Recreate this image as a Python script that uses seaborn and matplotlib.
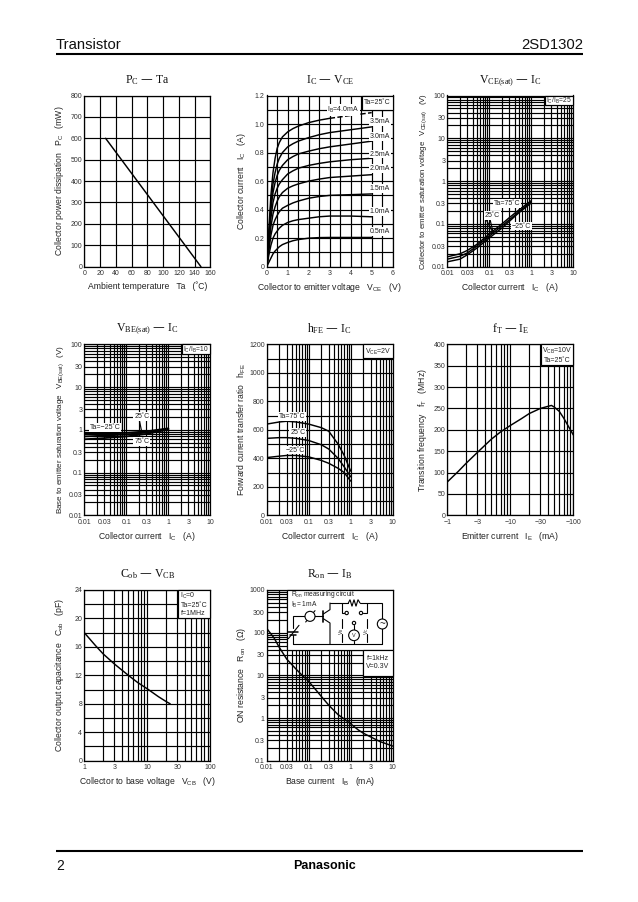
import numpy as np
import pandas as pd
import seaborn as sns
import matplotlib
matplotlib.use("Agg")
import matplotlib.pyplot as plt
from matplotlib.patches import Rectangle, Circle
from matplotlib.ticker import FixedLocator, FixedFormatter, LogLocator, NullFormatter

sns.set_theme(style="white")
plt.rcParams['font.family'] = ['Liberation Sans', 'DejaVu Sans']
plt.rcParams['mathtext.default'] = 'regular'

W, H = 638, 902

# PC - Ta
pc_ta = [27, 148]
pc_mw = [600, 0]

# IC - VCE
vce = [0, 0.05, 0.1, 0.2, 0.3, 0.4, 0.5, 0.6, 0.75, 1, 1.25, 1.5, 2, 2.5, 3, 4, 5]
ic_ib40 = [0, 0.10, 0.25, 0.50, 0.66, 0.76, 0.83, 0.87, 0.91, 0.945, 0.968, 0.985, 1.01, 1.027, 1.04, 1.06, 1.08]
ic_ib35 = [0, 0.09, 0.22, 0.44, 0.58, 0.66, 0.72, 0.76, 0.80, 0.84, 0.862, 0.88, 0.905, 0.925, 0.94, 0.96, 0.98]
ic_ib30 = [0, 0.08, 0.20, 0.40, 0.52, 0.59, 0.64, 0.675, 0.71, 0.75, 0.772, 0.79, 0.81, 0.827, 0.84, 0.86, 0.88]
ic_ib25 = [0, 0.07, 0.17, 0.34, 0.45, 0.51, 0.55, 0.58, 0.61, 0.65, 0.672, 0.69, 0.71, 0.724, 0.735, 0.75, 0.76]
ic_ib20 = [0, 0.06, 0.14, 0.28, 0.37, 0.42, 0.46, 0.49, 0.52, 0.55, 0.567, 0.58, 0.60, 0.614, 0.625, 0.635, 0.645]
ic_ib15 = [0, 0.05, 0.11, 0.22, 0.29, 0.33, 0.36, 0.385, 0.41, 0.43, 0.447, 0.46, 0.48, 0.492, 0.50, 0.505, 0.51]
ic_ib10 = [0, 0.035, 0.08, 0.15, 0.20, 0.23, 0.25, 0.27, 0.29, 0.31, 0.322, 0.33, 0.34, 0.35, 0.355, 0.355, 0.35]
ic_ib05 = [0, 0.015, 0.03, 0.06, 0.09, 0.11, 0.125, 0.14, 0.155, 0.17, 0.182, 0.19, 0.20, 0.204, 0.205, 0.205, 0.205]

# VCE(sat) - IC
sat_ic = [0.01, 0.02, 0.03, 0.05, 0.1, 0.2, 0.3, 0.5, 1]
vce_75 = [0.017, 0.020, 0.024, 0.033, 0.058, 0.10, 0.14, 0.21, 0.35]
vce_25 = [0.015, 0.0175, 0.021, 0.030, 0.052, 0.09, 0.125, 0.19, 0.33]
vce_m25 = [0.013, 0.015, 0.019, 0.027, 0.047, 0.08, 0.115, 0.18, 0.31]

# VBE(sat) - IC
vbe_ic = [0.01, 0.03, 0.1, 0.3, 1]
vbe_m25 = [0.80, 0.82, 0.85, 0.92, 1.08]
vbe_25 = [0.70, 0.73, 0.78, 0.86, 1.05]
vbe_75 = [0.60, 0.64, 0.70, 0.80, 1.02]

# hFE - IC
hfe_ic = [0.01, 0.02, 0.03, 0.05, 0.1, 0.2, 0.3, 0.5, 0.7, 1]
hfe_75 = [640, 655, 660, 655, 640, 615, 590, 500, 420, 310]
hfe_25 = [540, 545, 545, 540, 525, 495, 465, 400, 340, 270]
hfe_m25 = [405, 415, 420, 420, 410, 385, 365, 330, 300, 240]

# fT - IE (magnitude of IE, axis is labelled negative)
ft_ie = [1, 1.5, 2, 3, 5, 7, 10, 15, 20, 30, 40, 45, 50, 60, 70, 100]
ft_mhz = [78, 103, 122, 147, 178, 195, 210, 226, 238, 250, 255, 257, 253, 243, 228, 188]

# Cob - VCB
cob_vcb = [1, 1.5, 2, 3, 4, 5, 7, 10, 15, 20, 23]
cob_pf = [18, 16.2, 15, 13.6, 12.7, 12, 11, 10.1, 9, 8.3, 8]

# Ron - IB
ron_ib = [0.01, 0.015, 0.02, 0.03, 0.05, 0.07, 0.1, 0.15, 0.2, 0.3, 0.5, 0.7, 1, 1.5, 2, 3, 5, 7, 10]
ron_ohm = [126, 75, 45, 24, 14, 10, 7.2, 4.5, 3.2, 2.0, 1.2, 0.95, 0.73, 0.53, 0.44, 0.36, 0.28, 0.25, 0.22]

# tick labels
log_ic_ticks = [0.01, 0.03, 0.1, 0.3, 1, 3, 10]
log_ic_labels = ['0.01', '0.03', '0.1', '0.3', '1', '3', '10']
log_v_ticks = [0.01, 0.03, 0.1, 0.3, 1, 3, 10, 30, 100]
log_v_labels = ['0.01', '0.03', '0.1', '0.3', '1', '3', '10', '30', '100']
ron_ticks = [0.1, 0.3, 1, 3, 10, 30, 100, 300, 1000]
ron_labels = ['0.1', '0.3', '1', '3', '10', '30', '100', '300', '1000']


def make_axes(x0, y0, x1, y1):
    return fig.add_axes([x0 / W, 1 - y1 / H, (x1 - x0) / W, (y1 - y0) / H])


def draw(ax, x, y, ls='-', lw=1.05):
    df = pd.DataFrame({'x': x, 'y': y})
    sns.lineplot(data=df, x='x', y='y', color='black', linewidth=lw, linestyle=ls,
                 estimator=None, sort=False, ax=ax, zorder=4)


def style(ax, title, xlabel, ylabel, ysize=6.2):
    ax.set_title(title, fontsize=8.5, family=['Liberation Serif'], pad=9, color='#111111')
    ax.set_xlabel(xlabel, fontsize=6.2, color='#222222')
    ax.set_ylabel(ylabel, fontsize=ysize, color='#222222')
    ax.xaxis.set_label_coords(0.5, -0.085)
    ax.yaxis.set_label_coords(-0.145, 0.5)
    ax.grid(True, which='both', color='black', linewidth=0.85)
    ax.set_axisbelow(True)
    ax.tick_params(which='both', length=0, labelsize=5, labelcolor='#333333')
    ax.tick_params(axis='x', which='both', pad=2.5)
    ax.tick_params(axis='y', which='both', pad=1.5)
    for s in ax.spines.values():
        s.set_visible(True)
        s.set_color('black')
        s.set_linewidth(0.9)


def linear_axis(axis, ticks, labels, grid_ticks):
    axis.set_major_locator(FixedLocator(ticks))
    axis.set_major_formatter(FixedFormatter(labels))
    axis.set_minor_locator(FixedLocator(grid_ticks))
    axis.set_minor_formatter(NullFormatter())


def log_axis(axis, ticks, labels):
    axis.set_major_locator(FixedLocator(ticks))
    axis.set_major_formatter(FixedFormatter(labels))
    axis.set_minor_locator(LogLocator(base=10, subs=(2, 3, 4, 5, 6, 7, 8, 9), numticks=20))
    axis.set_minor_formatter(NullFormatter())


fig = plt.figure(figsize=(W / 100, H / 100), dpi=100, facecolor='white')

row1 = (95.5, 266.7)
row2 = (344.3, 515.3)
row3 = (590, 760.7)
col1 = (84.3, 210.4)
col2 = (266.7, 392.7)
col3 = (447.3, 573.3)

# PC - Ta
ax = make_axes(col1[0], row1[0], col1[1], row1[1])
draw(ax, pc_ta, pc_mw)
ax.set_xlim(0, 160)
ax.set_ylim(0, 800)
linear_axis(ax.xaxis, list(range(0, 161, 20)), [str(v) for v in range(0, 161, 20)], [])
linear_axis(ax.yaxis, list(range(0, 801, 100)), [str(v) for v in range(0, 801, 100)], [])
style(ax, 'P$_C$ — Ta', 'Ambient temperature   Ta   (˚C)', 'Collector power dissipation   P$_C$   (mW)')

# IC - VCE
ax = make_axes(col2[0], row1[0], col2[1], row1[1])
for ic in [ic_ib35, ic_ib30, ic_ib25, ic_ib20, ic_ib15, ic_ib10, ic_ib05]:
    draw(ax, vce, ic)
draw(ax, vce[:15], ic_ib40[:15])
draw(ax, vce[14:], ic_ib40[14:], ls='--')
ax.set_xlim(0, 6)
ax.set_ylim(0, 1.2)
linear_axis(ax.xaxis, [0, 1, 2, 3, 4, 5, 6], ['0', '1', '2', '3', '4', '5', '6'],
            [0.5, 1.5, 2.5, 3.5, 4.5, 5.5])
linear_axis(ax.yaxis, [0, 0.2, 0.4, 0.6, 0.8, 1.0, 1.2], ['0', '0.2', '0.4', '0.6', '0.8', '1.0', '1.2'],
            [0.1, 0.3, 0.5, 0.7, 0.9, 1.1])
style(ax, 'I$_C$ — V$_{CE}$', 'Collector to emitter voltage   V$_{CE}$   (V)', 'Collector current   I$_C$   (A)')

# VCE(sat) - IC
ax = make_axes(col3[0], row1[0], col3[1], row1[1])
for v in [vce_75, vce_25, vce_m25]:
    draw(ax, sat_ic, v)
ax.set_xscale('log')
ax.set_yscale('log')
ax.set_xlim(0.01, 10)
ax.set_ylim(0.01, 100)
log_axis(ax.xaxis, log_ic_ticks, log_ic_labels)
log_axis(ax.yaxis, log_v_ticks, log_v_labels)
style(ax, 'V$_{CE(sat)}$ — I$_C$', 'Collector current   I$_C$   (A)',
      'Collector to emitter saturation voltage   V$_{CE(sat)}$   (V)', ysize=5.6)

# VBE(sat) - IC
ax = make_axes(col1[0], row2[0], col1[1], row2[1])
for v in [vbe_m25, vbe_25, vbe_75]:
    draw(ax, vbe_ic, v, lw=1.3)
ax.set_xscale('log')
ax.set_yscale('log')
ax.set_xlim(0.01, 10)
ax.set_ylim(0.01, 100)
log_axis(ax.xaxis, log_ic_ticks, log_ic_labels)
log_axis(ax.yaxis, log_v_ticks, log_v_labels)
style(ax, 'V$_{BE(sat)}$ — I$_C$', 'Collector current   I$_C$   (A)',
      'Base to emitter saturation voltage   V$_{BE(sat)}$   (V)', ysize=5.8)

# hFE - IC
ax = make_axes(col2[0], row2[0], col2[1], row2[1])
for h in [hfe_75, hfe_25, hfe_m25]:
    draw(ax, hfe_ic, h)
ax.set_xscale('log')
ax.set_xlim(0.01, 10)
ax.set_ylim(0, 1200)
log_axis(ax.xaxis, log_ic_ticks, log_ic_labels)
linear_axis(ax.yaxis, list(range(0, 1201, 200)), [str(v) for v in range(0, 1201, 200)],
            list(range(100, 1200, 200)))
style(ax, 'h$_{FE}$ — I$_C$', 'Collector current   I$_C$   (A)', 'Forward current transfer ratio   h$_{FE}$')

# fT - IE
ax = make_axes(col3[0], row2[0], col3[1], row2[1])
draw(ax, ft_ie, ft_mhz)
ax.set_xscale('log')
ax.set_xlim(1, 100)
ax.set_ylim(0, 400)
log_axis(ax.xaxis, [1, 3, 10, 30, 100], ['−1', '−3', '−10', '−30', '−100'])
linear_axis(ax.yaxis, list(range(0, 401, 50)), [str(v) for v in range(0, 401, 50)], [])
style(ax, 'f$_T$ — I$_E$', 'Emitter current   I$_E$   (mA)', 'Transition frequency   f$_T$   (MHz)')

# Cob - VCB
ax = make_axes(col1[0], row3[0], col1[1], row3[1])
draw(ax, cob_vcb, cob_pf)
ax.set_xscale('log')
ax.set_xlim(1, 100)
ax.set_ylim(0, 24)
log_axis(ax.xaxis, [1, 3, 10, 30, 100], ['1', '3', '10', '30', '100'])
linear_axis(ax.yaxis, list(range(0, 25, 4)), [str(v) for v in range(0, 25, 4)], list(range(2, 24, 4)))
style(ax, 'C$_{ob}$ — V$_{CB}$', 'Collector to base voltage   V$_{CB}$   (V)', 'Collector output capacitance   C$_{ob}$   (pF)')

# Ron - IB
ax = make_axes(col2[0], row3[0], col2[1], row3[1])
draw(ax, ron_ib, ron_ohm)
ax.set_xscale('log')
ax.set_yscale('log')
ax.set_xlim(0.01, 10)
ax.set_ylim(0.1, 1000)
log_axis(ax.xaxis, log_ic_ticks, log_ic_labels)
log_axis(ax.yaxis, ron_ticks, ron_labels)
style(ax, 'R$_{on}$ — I$_B$', 'Base current   I$_B$   (mA)', 'ON resistance   R$_{on}$   (Ω)')

# overlay in page pixels: header, footer, note boxes, circuit
page = fig.add_axes([0, 0, 1, 1], zorder=5)
page.set_xlim(0, W)
page.set_ylim(H, 0)
page.axis('off')
page.patch.set_alpha(0)


def rule(x0, y0, x1, y1, lw=0.85, **kw):
    page.plot([x0, x1], [y0, y1], color='black', lw=lw, solid_capstyle='butt', **kw)


def box(x0, y0, x1, y1):
    page.add_patch(Rectangle((x0, y0), x1 - x0, y1 - y0, facecolor='white', edgecolor='black', lw=0.85))


def note(x, y, s, size=5, ha='center', bg=True):
    bbox = dict(facecolor='white', edgecolor='none', pad=0.6) if bg else None
    page.text(x, y, s, fontsize=size, ha=ha, va='center', color='#222222', bbox=bbox, linespacing=1.15)


# header and footer
rule(56, 54, 583, 54, lw=1.5)
rule(56, 851, 583, 851, lw=1.5)
page.text(56, 49, 'Transistor', fontsize=10.7, ha='left', va='baseline', color='#111111')
page.text(583, 49, '2SD1302', fontsize=10.7, ha='right', va='baseline', color='#111111')
page.text(56, 870, '2', fontsize=10, ha='left', va='baseline', color='#111111')
page.text(324, 869, 'Panasonic', fontsize=9, fontweight='bold', ha='center', va='baseline', color='black')

# IC - VCE notes
box(361.7, 95.5, 392.7, 110)
note(377, 103, 'Ta=25˚C', bg=False)
note(343.3, 110, 'I$_B$=4.0mA')
for py, s in [(121.7, '3.5mA'), (136.3, '3.0mA'), (154, '2.5mA'), (168.3, '2.0mA'),
              (188.7, '1.5mA'), (211.3, '1.0mA'), (231.7, '0.5mA')]:
    note(380, py, s)

# VCE(sat) notes
box(545, 95.5, 573.3, 105)
note(559, 100.5, 'I$_C$/I$_B$=25', size=4.8, bg=False)
rule(486, 219.3, 493.3, 233.3)
rule(490, 219.3, 493.3, 233.3)
note(506.7, 203.3, 'Ta=75˚C')
note(492.3, 215.7, '25˚C')
note(521.7, 226, '−25˚C')

# VBE(sat) notes
box(181.7, 344.3, 210.4, 354)
note(196, 349.5, 'I$_C$/I$_B$=10', size=4.8, bg=False)
rule(139.3, 420, 141.7, 431.7)
note(105, 427.3, 'Ta=−25˚C')
note(141.7, 416.7, '25˚C')
note(141.7, 441.7, '75˚C')

# hFE notes
box(363.3, 344.3, 392.7, 358.3)
note(378, 351.5, 'V$_{CE}$=2V', bg=False)
note(291.7, 416.7, 'Ta=75˚C')
note(297.7, 432.7, '25˚C')
note(295, 450, '−25˚C')

# fT notes
box(540.7, 344.3, 573.3, 365)
note(557, 355, 'V$_{CB}$=10V\nTa=25˚C', bg=False)

# Cob notes
box(178.3, 590, 210.4, 618.3)
note(180.5, 604, 'I$_C$=0\nTa=25˚C\nf=1MHz', ha='left', bg=False)

# Ron notes and measuring circuit
box(286.7, 590, 392.7, 649.7)
box(363.3, 649.7, 392.7, 675.7)
note(378, 662.5, 'f=1kHz\nV=0.3V', bg=False)
note(291, 594.3, 'R$_{on}$ measuring circuit', size=4.8, ha='left', bg=False)
note(291, 604.5, 'I$_B$= 1mA', size=4.8, ha='left', bg=False)


def cx(v):
    return 285 + v / 3


def cy(v):
    return 588 + v / 3


def wire(xs, ys, lw=0.8):
    page.plot([cx(v) for v in xs], [cy(v) for v in ys], color='black', lw=lw, solid_joinstyle='miter')


def ring(x, y, r, lw=0.8):
    page.add_patch(Circle((cx(x), cy(y)), r / 3, facecolor='white', edgecolor='black', lw=lw, zorder=3))


wire([25, 292], [168, 168])                          # bottom rail
wire([135, 190], [45, 45])
wire([190, 195, 201, 207, 213, 219, 225], [45, 35, 55, 35, 55, 35, 45])  # resistor
wire([225, 292, 292], [45, 45, 168])
wire([135, 135, 115], [45, 65, 78])                  # collector
wire([115, 135, 135], [92, 105, 168])                # emitter
wire([115, 115], [68, 102], lw=1.2)                  # base bar
wire([25, 25, 115], [120, 85, 85])
ring(75, 85, 15)
wire([62, 90], [102, 68])                            # slash over the base resistor
wire([25, 25], [140, 168])
wire([10, 40], [132, 132], lw=1.1)                   # variable source plates
wire([16, 34], [140, 140], lw=1.1)
wire([10, 42], [152, 112])
wire([170, 170, 180], [45, 75, 75])
wire([245, 245, 233], [45, 75, 75])
ring(185, 75, 5)
ring(228, 75, 5)
ring(207, 105, 5)
wire([207, 207], [110, 126])
wire([207, 207], [158, 168])
ring(207, 142, 16)
page.text(cx(207), cy(142), 'V', fontsize=4, ha='center', va='center', zorder=4)
ring(292, 108, 15)
page.text(cx(292), cy(107), '~', fontsize=7, ha='center', va='center', zorder=4)
wire([170, 170], [92, 120])
wire([170, 170], [138, 162])
wire([245, 245], [92, 120])
wire([245, 245], [138, 162])
page.text(cx(170), cy(129), 'V$_B$', fontsize=3.5, rotation=90, ha='center', va='center')
page.text(cx(245), cy(129), 'V$_C$', fontsize=3.5, rotation=90, ha='center', va='center')

fig.savefig('out.png', dpi=100, facecolor='white')
